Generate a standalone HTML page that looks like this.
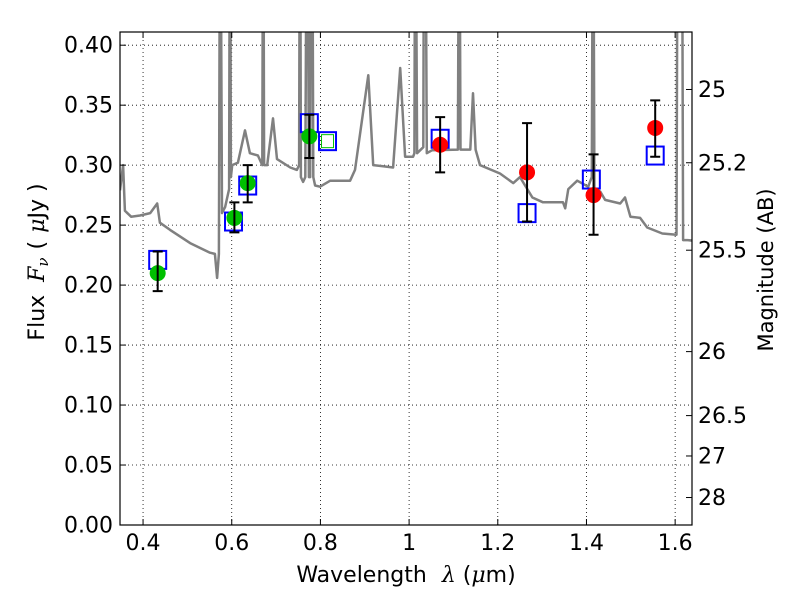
<!DOCTYPE html>
<html><head><meta charset="utf-8"><style>
body{margin:0;background:#fff}
svg{display:block;font-family:"DejaVu Sans","Liberation Sans",sans-serif}
text{white-space:pre}
</style></head><body>
<svg id="chart" width="800" height="600" viewBox="0 0 800 600">
<defs><clipPath id="clip"><rect x="120" y="32" width="572" height="493"/></clipPath></defs>
<rect x="0" y="0" width="800" height="600" fill="#fff"/>
<g id="grid"></g>
<g id="spec" clip-path="url(#clip)"></g>
<g id="marks" clip-path="url(#clip)"></g>
<g id="axes"></g>
<text x="406" y="582" font-size="22" text-anchor="middle">Wavelength <tspan dx="8" font-family="DejaVu Serif" font-style="italic">λ</tspan> (<tspan font-family="DejaVu Serif" font-style="italic">μ</tspan>m)</text>
<text transform="translate(44,262) rotate(-90)" font-size="22" text-anchor="middle">Flux <tspan dx="6" font-family="DejaVu Serif" font-style="italic">F<tspan font-size="15" dy="4">ν</tspan></tspan><tspan dy="-4" dx="8">(</tspan><tspan dx="8" font-family="DejaVu Serif" font-style="italic">μ</tspan>Jy )</text>
<text transform="translate(773,270) rotate(-90)" font-size="21" text-anchor="middle">Magnitude (AB)</text>
</svg>
<script>
const specLam=[0.348,0.355,0.359,0.373,0.393,0.416,0.432,0.438,0.461,0.506,0.551,0.562,0.567,0.571,0.574,0.578,0.585,0.594,0.596,0.598,0.601,0.614,0.630,0.641,0.659,0.669,0.671,0.673,0.680,0.693,0.702,0.732,0.747,0.752,0.754,0.756,0.761,0.766,0.770,0.774,0.777,0.779,0.781,0.784,0.788,0.799,0.822,0.867,0.878,0.908,0.919,0.964,0.980,0.991,1.009,1.012,1.014,1.018,1.032,1.034,1.036,1.040,1.052,1.110,1.113,1.116,1.138,1.144,1.150,1.160,1.205,1.235,1.250,1.278,1.302,1.347,1.352,1.359,1.379,1.404,1.412,1.415,1.418,1.431,1.442,1.476,1.487,1.499,1.521,1.537,1.571,1.603,1.606,1.609,1.615,1.618,1.628,1.641];
const specFlux=[0.279,0.300,0.262,0.257,0.258,0.260,0.268,0.252,0.246,0.235,0.227,0.226,0.206,0.226,0.6,0.26,0.265,0.28,0.6,0.29,0.300,0.302,0.329,0.310,0.308,0.30,0.6,0.30,0.300,0.339,0.305,0.298,0.296,0.30,0.6,0.29,0.286,0.29,0.6,0.29,0.290,0.6,0.6,0.29,0.283,0.282,0.287,0.287,0.296,0.375,0.300,0.298,0.381,0.307,0.307,0.31,0.6,0.31,0.315,0.6,0.6,0.31,0.3125,0.313,0.6,0.313,0.313,0.36,0.313,0.300,0.293,0.285,0.290,0.273,0.269,0.269,0.264,0.280,0.287,0.282,0.29,0.6,0.28,0.278,0.271,0.268,0.273,0.257,0.256,0.248,0.243,0.242,0.6,0.6,0.6,0.2375,0.2375,0.237];
const ptLam=[0.433,0.606,0.636,0.775,1.070,1.266,1.416,1.555];
const ptFlux=[0.210,0.256,0.285,0.324,0.317,0.294,0.275,0.331];
const ptErrLo=[0.195,0.244,0.269,0.306,0.294,0.253,0.242,0.307];
const ptErrHi=[0.228,0.269,0.300,0.342,0.340,0.335,0.309,0.354];
const ptColor=['#00c000','#00c000','#00c000','#00c000','red','red','red','red'];
const modLam=[0.433,0.604,0.636,0.775,0.816,1.070,1.266,1.411,1.555];
const modFlux=[0.221,0.253,0.283,0.335,0.320,0.322,0.260,0.288,0.308];
const xTicks=[0.4,0.6,0.8,1.0,1.2,1.4,1.6];
const xTickLabels=['0.4','0.6','0.8','1','1.2','1.4','1.6'];
const yTicks=[0,0.05,0.1,0.15,0.2,0.25,0.3,0.35,0.4];
const yTickLabels=['0.00','0.05','0.10','0.15','0.20','0.25','0.30','0.35','0.40'];
const magTicks=[25,25.2,25.5,26,26.5,27,28];
const magTickLabels=['25','25.2','25.5','26','26.5','27','28'];

const X0=120,X1=692,Y0=525,Y1=32,XMIN=0.348,XMAX=1.638,YMIN=0,YMAX=0.411;
const sx=v=>X0+(v-XMIN)/(XMAX-XMIN)*(X1-X0);
const sy=v=>Y0-(v-YMIN)/(YMAX-YMIN)*(Y0-Y1);
const NS='http://www.w3.org/2000/svg';
function mk(par,tag,attrs){const e=document.createElementNS(NS,tag);for(const k in attrs)e.setAttribute(k,attrs[k]);par.appendChild(e);return e;}
const grid=document.getElementById('grid'),axes=document.getElementById('axes'),spec=document.getElementById('spec'),marks=document.getElementById('marks');

xTicks.forEach((t,i)=>{
  const x=sx(t);
  let g=mk(grid,'line',{x1:x,x2:x,y1:Y1,y2:Y0,stroke:'#000','stroke-width':0.8,'stroke-dasharray':'1,3'});
  
  
  mk(axes,'line',{x1:x,x2:x,y1:Y0,y2:Y0-6,stroke:'#000'});
  mk(axes,'line',{x1:x,x2:x,y1:Y1,y2:Y1+6,stroke:'#000'});
  let tx=mk(axes,'text',{x:x,y:Y0+25,'font-size':22,'text-anchor':'middle'});
  tx.textContent=xTickLabels[i];
  
  
});
yTicks.forEach((t,i)=>{
  const y=sy(t);
  let g=mk(grid,'line',{x1:X0,x2:X1,y1:y,y2:y,stroke:'#000','stroke-width':0.8,'stroke-dasharray':'1,3'});
  
  
  mk(axes,'line',{x1:X0,x2:X0+6,y1:y,y2:y,stroke:'#000'});
  let tx=mk(axes,'text',{x:X0-7,y:y+7.5,'font-size':22,'text-anchor':'end'});
  tx.textContent=yTickLabels[i];
  
  
});
magTicks.forEach((m,i)=>{
  const y=sy(Math.pow(10,(23.9-m)/2.5));
  mk(axes,'line',{x1:X1-6,x2:X1,y1:y,y2:y,stroke:'#000'});
  let tx=mk(axes,'text',{x:X1+6,y:y+7.5,'font-size':22,'text-anchor':'start'});
  tx.textContent=magTickLabels[i];
  
  
});
let sp=mk(axes,'rect',{x:X0,y:Y1,width:X1-X0,height:Y0-Y1,fill:'none',stroke:'#000','stroke-width':1.2});



let d=specLam.map((l,i)=>(i?'L':'M')+sx(l).toFixed(1)+','+sy(specFlux[i]).toFixed(1)).join('');
let pl=mk(spec,'path',{d:d,fill:'none',stroke:'#808080','stroke-width':2.5,'stroke-linejoin':'round'});



modLam.forEach((l,i)=>{
  const x=sx(l),y=sy(modFlux[i]);
  let r=mk(marks,'rect',{x:x-8.5,y:y-9,width:17,height:18,fill:'none',stroke:'#0000ff','stroke-width':2});
  
  
  if(i===4){
    let g=mk(marks,'rect',{x:x-6,y:y-6.5,width:12,height:13,fill:'none',stroke:'#00c000','stroke-width':1});
    
    
  }
});
ptLam.forEach((l,i)=>{
  const x=sx(l),y=sy(ptFlux[i]);
  let c=mk(marks,'circle',{cx:x,cy:y,r:8,fill:ptColor[i]});
  
  
  const yl=sy(ptErrLo[i]),yh=sy(ptErrHi[i]);
  let e=mk(marks,'path',{d:`M${x},${yl}L${x},${yh}M${x-5},${yl}L${x+5},${yl}M${x-5},${yh}L${x+5},${yh}`,stroke:'#000','stroke-width':2,fill:'none'});
  
  
});
</script>
</body></html>
